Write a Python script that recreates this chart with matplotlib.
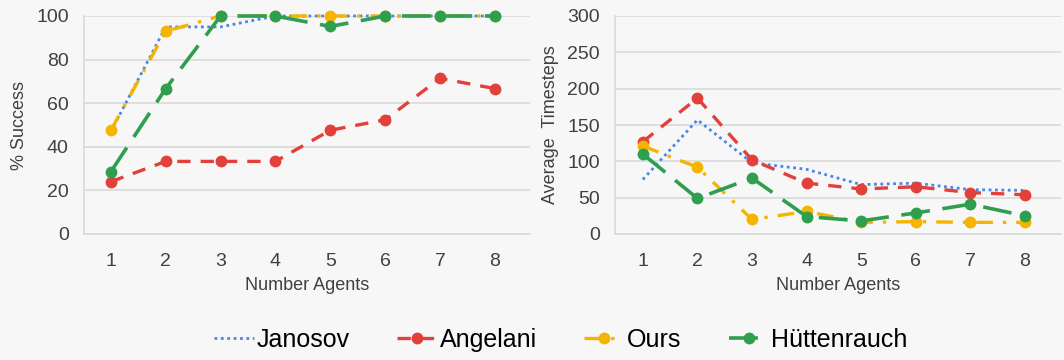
import matplotlib
matplotlib.use("Agg")
import matplotlib.pyplot as plt
from matplotlib.lines import Line2D

agents = [1, 2, 3, 4, 5, 6, 7, 8]
series_names = ["Janosov", "Angelani", "Ours", "Hüttenrauch"]

success_janosov = [47, 95, 95, 100, 100, 100, 100, 100]
success_angelani = [24, 33.3, 33.3, 33.3, 47.6, 52.4, 71.4, 66.7]
success_ours = [47.6, 93, 100, 100, 100, 100, 100, 100]
success_huttenrauch = [28.6, 66.7, 100, 100, 95.2, 100, 100, 100]

steps_janosov = [75, 157, 98, 89, 68, 70, 61, 60]
steps_angelani = [127, 187, 102, 70, 62, 65, 57, 54]
steps_ours = [121, 92, 20, 31, 16, 17, 16, 16]
steps_huttenrauch = [110, 49, 77, 24, 18, 29, 41, 25]

colors = {"Janosov": "#4a86e8", "Angelani": "#e2403a", "Ours": "#f4b400", "Hüttenrauch": "#2f9e4f"}
styles = {
    "Janosov": dict(linestyle=(0, (1, 1.3)), marker=None, lw=2.0),
    "Angelani": dict(linestyle=(0, (4, 3)), marker="o", lw=2.4),
    "Ours": dict(linestyle=(0, (5, 3, 1, 3)), marker="o", lw=2.4),
    "Hüttenrauch": dict(linestyle=(0, (8, 3.5)), marker="o", lw=2.6),
}

plt.rcParams['font.family'] = ['Liberation Sans', 'DejaVu Sans']
bg = "#f7f7f7"
fig = plt.figure(figsize=(10.64, 3.6), dpi=100, facecolor=bg)

W, H = 1064, 360
def ax_rect(l, r, t, b):
    return [l / W, 1 - b / H, (r - l) / W, (b - t) / H]

ax1 = fig.add_axes(ax_rect(84, 530, 16, 234))
ax2 = fig.add_axes(ax_rect(615, 1061, 16, 234))

data1 = [success_janosov, success_angelani, success_ours, success_huttenrauch]
data2 = [steps_janosov, steps_angelani, steps_ours, steps_huttenrauch]

for ax, data, ymax, step, ylabel, xl in [
    (ax1, data1, 100, 20, "% Success", (0.51, 8.64)),
    (ax2, data2, 300, 50, "Average  Timesteps", (0.49, 8.66)),
]:
    ax.set_facecolor(bg)
    for name, vals in zip(series_names, data):
        st = styles[name]
        ax.plot(agents, vals, color=colors[name], linestyle=st["linestyle"], lw=st["lw"],
                marker=st["marker"], markersize=7.5, zorder=3, clip_on=False)
    ax.set_ylim(0, ymax)
    ax.set_xlim(*xl)
    ax.set_yticks(range(0, ymax + 1, step))
    ax.set_xticks(agents)
    ax.grid(axis="y", color="#d9d9d9", lw=1.2)
    ax.set_axisbelow(True)
    for s in ["top", "right"]:
        ax.spines[s].set_visible(False)
    for s in ["left", "bottom"]:
        ax.spines[s].set_color("#d9d9d9")
        ax.spines[s].set_linewidth(1.2)
    ax.tick_params(axis="y", length=0, labelsize=14, colors="#404040", pad=11)
    ax.tick_params(axis="x", length=0, labelsize=14, colors="#404040", pad=14)
    ax.set_xlabel("Number Agents", fontsize=13, color="#404040", labelpad=5)
    ax.set_ylabel(ylabel, fontsize=13, color="#404040", labelpad=6)

handles = []
for name in series_names:
    st = styles[name]
    handles.append(Line2D([], [], color=colors[name], linestyle=st["linestyle"], lw=st["lw"],
                          marker=st["marker"], markersize=7.5))
fig.legend(handles, series_names, loc="center", bbox_to_anchor=(0.527, 1 - 340 / H), ncol=4,
           frameon=False, fontsize=18, handlelength=1.6, handletextpad=0.1, columnspacing=1.9)

fig.savefig("out.png", dpi=100, facecolor=bg)
